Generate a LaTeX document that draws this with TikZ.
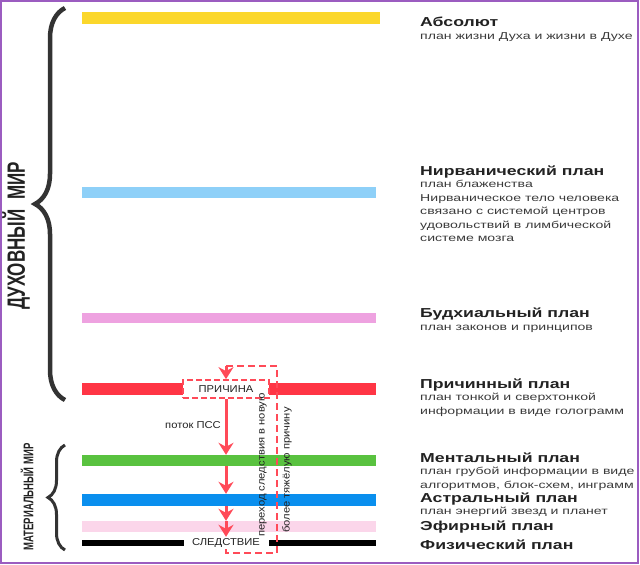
\documentclass[tikz,border=0pt]{standalone}
\usepackage{fontspec}
\setmainfont{Liberation Sans}
\newfontfamily\headfont{Liberation Sans}[FakeStretch=1.36]
\newfontfamily\descfont{Liberation Sans}[FakeStretch=1.41]
\newfontfamily\labelfont{Liberation Sans}[FakeStretch=1.12]
\newfontfamily\narrowfont{Liberation Sans}[FakeStretch=0.68]
\usetikzlibrary{arrows.meta,decorations.pathreplacing,positioning}
\definecolor{absyellow}{HTML}{FBD72B}
\definecolor{nirvblue}{HTML}{8ED0F8}
\definecolor{buddpink}{HTML}{EEA2E0}
\definecolor{causred}{HTML}{FF3545}
\definecolor{mentgreen}{HTML}{59C23F}
\definecolor{astrblue}{HTML}{0A8FEE}
\definecolor{ethpink}{HTML}{FBD6EA}
\definecolor{flowred}{HTML}{FF4A58}
\definecolor{bracegray}{HTML}{333333}
\definecolor{headgray}{HTML}{222222}
\definecolor{descgray}{HTML}{3A3A3A}
\definecolor{framepurple}{HTML}{9B5CC0}
\begin{document}
\begin{tikzpicture}[x=1pt,y=-1pt,
  bar/.style={rectangle,inner sep=0pt,draw=none,minimum width=294pt},
  title/.style={anchor=base west,inner sep=0pt,text=headgray,
    font=\headfont\bfseries\fontsize{13}{15}\selectfont},
  desc/.style={anchor=north west,inner sep=0pt,align=left,text=descgray,
    font=\descfont\fontsize{10}{13.5}\selectfont},
  tag/.style={inner sep=0pt,text=headgray,font=\labelfont\fontsize{10}{12}\selectfont},
  flow/.style={draw=flowred,line width=3pt,-{Stealth[length=12pt,width=15pt,inset=4pt]}},
  back/.style={draw=flowred,line width=2.5pt,dash pattern=on 7pt off 4pt},
  brace/.style={decorate,draw=bracegray,decoration={brace,amplitude=#1}},
  side/.style={inner sep=0pt,rotate=90,text=headgray,font=\narrowfont}]
\useasboundingbox (0,0) rectangle (640,565);
\draw[framepurple,line width=2pt] (1,1) rectangle (638,563);

% planes
\node[bar,fill=absyellow,minimum width=298pt,minimum height=12pt] (absolute) at (231,18) {};
\node[bar,fill=nirvblue,minimum height=11pt] (nirvana) at (229,192.5) {};
\node[bar,fill=buddpink,minimum height=10pt] (buddhi) at (229,318) {};
\node[bar,fill=causred,minimum height=12pt] (causal) at (229,389) {};
\node[bar,fill=mentgreen,minimum height=11pt] (mental) at (229,460.5) {};
\node[bar,fill=astrblue,minimum height=12pt] (astral) at (229,500) {};
\node[bar,fill=ethpink,minimum height=11pt] (etheric) at (229,526.5) {};
\node[bar,fill=black,minimum height=6pt] (physical) at (229,543) {};

% cause and effect
\node[tag,fill=white,draw=flowred,line width=1.8pt,dash pattern=on 6pt off 3pt,
  minimum width=86pt,minimum height=18pt] (cause) at (226,389) {ПРИЧИНА};
\node[tag,fill=white,minimum width=85pt,minimum height=12pt] (effect) at (226,543) {СЛЕДСТВИЕ};
\coordinate (ret) at (226,366);
\coordinate (turn) at (277,553);

\draw[back] (effect.south) |- (turn) |- (ret);
\draw[flow] (ret) -- (cause.north);
\draw[flow] (cause.south) -- (cause.south |- mental.north);
\draw[flow] (cause.south |- mental.south) -- (cause.south |- astral.north);
\draw[flow] (cause.south |- astral.south) -- (cause.south |- etheric.north);
\draw[flow] (cause.south |- etheric.north) -- (effect.north);

\node[tag] (stream) at (193,425) {поток ПСС};
\node[tag,rotate=90] (shift) at (263,465) {переход следствия в новую};
\node[tag,rotate=90] (heavier) at (287,470) {более тяжёлую причину};

% worlds
\draw[brace=30pt,line width=4.5pt] (65,400) -- (65,8);
\draw[brace=17pt,line width=3pt] (65,550) -- (65,445);
\node[side,font=\narrowfont\bfseries\fontsize{25}{28}\selectfont] (spirit) at (16,236) {ДУХОВНЫЙ\ \ МИР};
\node[side,font=\narrowfont\bfseries\fontsize{14}{16}\selectfont] (matter) at (27,497) {МАТЕРИАЛЬНЫЙ МИР};

% descriptions
\node[title] (absT) at (420,26) {Абсолют};
\node[desc] (absD) at ([yshift=-6pt]absT.base west) {план жизни Духа и жизни в Духе};
\node[title] (nirT) at (420,175) {Нирванический план};
\node[desc] (nirD) at ([yshift=-5pt]nirT.base west) {план блаженства\\Нирваническое тело человека\\связано с системой центров\\удовольствий в лимбической\\системе мозга};
\node[title] (budT) at (420,317) {Будхиальный план};
\node[desc] (budD) at ([yshift=-8pt]budT.base west) {план законов и принципов};
\node[title] (cauT) at (420,388) {Причинный план};
\node[desc] (cauD) at ([yshift=-5pt]cauT.base west) {план тонкой и сверхтонкой\\информации в виде голограмм};
\node[title] (menT) at (420,462) {Ментальный план};
\node[desc] (menD) at ([yshift=-5pt]menT.base west) {план грубой информации в виде\\алгоритмов, блок-схем, инграмм};
\node[title] (astT) at (420,502) {Астральный план};
\node[desc] (astD) at ([yshift=-5pt]astT.base west) {план энергий звезд и планет};
\node[title] (ethT) at (420,530) {Эфирный план};
\node[title] (phyT) at (420,549) {Физический план};
\end{tikzpicture}
\end{document}
